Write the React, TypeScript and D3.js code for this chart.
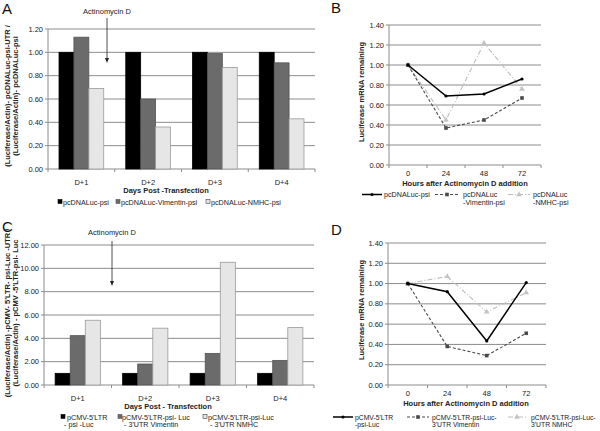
import { useEffect, useRef } from 'react';
import * as d3 from 'd3';

// categories
const days = ['D+1', 'D+2', 'D+3', 'D+4'];
const hours = ['0', '24', '48', '72'];

// panel A (bars)
const aPsi = [1.0, 1.0, 1.0, 1.0];
const aVimentin = [1.13, 0.6, 0.99, 0.91];
const aNmhc = [0.69, 0.36, 0.87, 0.43];
const aTicks = [0, 0.2, 0.4, 0.6, 0.8, 1.0, 1.2];

// panel B (lines)
const bPsi = [1.0, 0.69, 0.71, 0.86];
const bVimentin = [1.0, 0.37, 0.45, 0.67];
const bNmhc = [1.0, 0.45, 1.22, 0.76];

// panel C (bars)
const cPsi = [1.0, 1.0, 1.0, 1.0];
const cVimentin = [4.23, 1.8, 2.71, 2.11];
const cNmhc = [5.55, 4.87, 10.52, 4.92];
const cTicks = [0, 2, 4, 6, 8, 10, 12];

// panel D (lines)
const dPsi = [1.0, 0.92, 0.435, 1.01];
const dVimentin = [1.0, 0.38, 0.29, 0.51];
const dNmhc = [1.0, 1.07, 0.72, 0.91];
const lineTicks = [0, 0.2, 0.4, 0.6, 0.8, 1.0, 1.2, 1.4];

const FONT = '"Liberation Sans", Arial, sans-serif';
const GRID = '#8c8c8c';
const barFills = ['#000000', '#6b6b6b', '#e6e6e6'];
const barStrokes = ['#000000', '#555555', '#9a9a9a'];

type Sel = d3.Selection<SVGSVGElement, unknown, null, undefined>;

function addText(g: any, x: number, y: number, txt: string, size = 7.5, opts: any = {}) {
  return g.append('text')
    .attr('x', x).attr('y', y)
    .attr('font-size', size)
    .attr('font-family', FONT)
    .attr('fill', opts.fill || '#222')
    .attr('font-weight', opts.bold ? 'bold' : 'normal')
    .attr('text-anchor', opts.anchor || 'start')
    .text(txt);
}

function rotTitle(svg: Sel, x: number, cy: number, txt: string) {
  svg.append('text')
    .attr('transform', `translate(${x},${cy}) rotate(-90)`)
    .attr('text-anchor', 'middle')
    .attr('font-size', 7.5).attr('font-weight', 'bold')
    .attr('font-family', FONT).attr('fill', '#222')
    .text(txt);
}

function yAxisGrid(svg: Sel, y: any, ticks: number[], left: number, right: number, top: number, bottom: number) {
  ticks.forEach((t) => {
    svg.append('line')
      .attr('x1', left).attr('x2', right)
      .attr('y1', y(t)).attr('y2', y(t))
      .attr('stroke', GRID).attr('stroke-width', 1);
    svg.append('line')
      .attr('x1', left - 3).attr('x2', left)
      .attr('y1', y(t)).attr('y2', y(t))
      .attr('stroke', GRID);
    addText(svg, left - 5, y(t) + 2.6, d3.format('.2f')(t), 7.5, { anchor: 'end' });
  });
  svg.append('line')
    .attr('x1', left).attr('x2', left)
    .attr('y1', top).attr('y2', bottom)
    .attr('stroke', GRID);
}

function drawBars(svg: Sel, o: any) {
  const y = d3.scaleLinear().domain([0, o.yMax]).range([o.bottom, o.top]);
  const x0 = d3.scaleBand().domain(days).range([o.left, o.right]).paddingInner(0.33).paddingOuter(0.165);
  const x1 = d3.scaleBand().domain(['0', '1', '2']).range([0, x0.bandwidth()]);

  yAxisGrid(svg, y, o.ticks, o.left, o.right, o.top, o.bottom);

  const step = x0.step();
  d3.range(5).forEach((i) => {
    const xx = o.left + i * step;
    svg.append('line')
      .attr('x1', xx).attr('x2', xx)
      .attr('y1', o.bottom).attr('y2', o.bottom + 3)
      .attr('stroke', GRID);
  });

  o.series.forEach((vals: number[], si: number) => {
    svg.append('g').selectAll('rect')
      .data(vals)
      .join('rect')
      .attr('x', (_d, i) => (x0(days[i]) as number) + (x1(String(si)) as number))
      .attr('y', (d) => y(d))
      .attr('width', x1.bandwidth())
      .attr('height', (d) => o.bottom - y(d))
      .attr('fill', barFills[si])
      .attr('stroke', barStrokes[si])
      .attr('stroke-width', 0.8);
  });

  days.forEach((d) => {
    addText(svg, (x0(d) as number) + x0.bandwidth() / 2, o.bottom + 16, d, 7.5, { anchor: 'middle' });
  });
  addText(svg, o.xTitleX, o.bottom + 24, o.xTitle, 7.5, { bold: true, anchor: 'middle' });

  // arrow annotation
  addText(svg, o.arrow.x, o.arrow.ty, 'Actinomycin D', 7.5, { anchor: 'middle' });
  svg.append('line')
    .attr('x1', o.arrow.x).attr('x2', o.arrow.x)
    .attr('y1', o.arrow.y1).attr('y2', o.arrow.y2 - 3)
    .attr('stroke', '#222').attr('stroke-width', 0.8);
  svg.append('path')
    .attr('d', `M${o.arrow.x - 2},${o.arrow.y2 - 5}L${o.arrow.x + 2},${o.arrow.y2 - 5}L${o.arrow.x},${o.arrow.y2}Z`)
    .attr('fill', '#222');

  // legend
  o.legend.forEach((it: any, si: number) => {
    svg.append('rect')
      .attr('x', it.sx).attr('y', o.legendY - 2.5)
      .attr('width', 4).attr('height', 4)
      .attr('fill', barFills[si]).attr('stroke', si === 2 ? '#444' : barStrokes[si]).attr('stroke-width', 0.6);
    it.lines.forEach((ln: string, li: number) => {
      addText(svg, it.tx + (li ? it.indent || 0 : 0), o.legendY + 2.6 + li * 7.5, ln, 7.2);
    });
  });

  o.yTitle.forEach((t: string, i: number) => rotTitle(svg, o.yTitleX[i], o.yTitleY, t));
  addText(svg, o.label.x, o.label.y, o.label.t, 15, { fill: '#111' });
}

function marker(g: any, kind: string, x: number, y: number, color: string) {
  if (kind === 'dot') {
    g.append('circle').attr('cx', x).attr('cy', y).attr('r', 1.6).attr('fill', color);
  } else if (kind === 'square') {
    g.append('rect').attr('x', x - 1.8).attr('y', y - 1.8).attr('width', 3.6).attr('height', 3.6).attr('fill', color);
  } else {
    g.append('path').attr('d', d3.symbol(d3.symbolTriangle, 14)()).attr('transform', `translate(${x},${y})`).attr('fill', color);
  }
}

const lineStyles = [
  { stroke: '#000000', width: 1.5, dash: null, marker: 'dot', mcolor: '#000000' },
  { stroke: '#4a4a4a', width: 1.1, dash: '3,2', marker: 'square', mcolor: '#4a4a4a' },
  { stroke: '#bdbdbd', width: 1.1, dash: '5,2,1,2', marker: 'triangle', mcolor: '#c4c4c4' },
];

function drawLines(svg: Sel, o: any) {
  const y = d3.scaleLinear().domain([0, 1.4]).range([o.bottom, o.top]);
  const x = d3.scaleBand().domain(hours).range([o.left, o.right]);
  const cx = (h: string) => (x(h) as number) + x.bandwidth() / 2;

  yAxisGrid(svg, y, lineTicks, o.left, o.right, o.top, o.bottom);
  d3.range(5).forEach((i) => {
    const xx = o.left + i * x.step();
    svg.append('line')
      .attr('x1', xx).attr('x2', xx)
      .attr('y1', o.bottom).attr('y2', o.bottom + 3)
      .attr('stroke', GRID);
  });
  hours.forEach((h) => addText(svg, cx(h), o.bottom + 11, h, 7.5, { anchor: 'middle' }));
  addText(svg, o.xTitleX, o.bottom + 21, 'Hours after Actinomycin D addition', 7.5, { bold: true, anchor: 'middle' });

  const line = d3.line<number>().x((_d, i) => cx(hours[i])).y((d) => y(d));
  // draw light series first so the black one sits on top
  [2, 1, 0].forEach((si) => {
    const st = lineStyles[si];
    const vals = o.series[si];
    svg.append('path')
      .attr('d', line(vals))
      .attr('fill', 'none')
      .attr('stroke', st.stroke)
      .attr('stroke-width', st.width)
      .attr('stroke-dasharray', st.dash);
    const g = svg.append('g');
    vals.forEach((v: number, i: number) => marker(g, st.marker, cx(hours[i]), y(v), st.mcolor));
  });

  o.legend.forEach((it: any, si: number) => {
    const st = lineStyles[si];
    svg.append('line')
      .attr('x1', it.x1).attr('x2', it.x2)
      .attr('y1', o.legendY).attr('y2', o.legendY)
      .attr('stroke', st.stroke).attr('stroke-width', st.width)
      .attr('stroke-dasharray', st.dash);
    marker(svg, st.marker, (it.x1 + it.x2) / 2, o.legendY, st.mcolor);
    it.lines.forEach((ln: string, li: number) => {
      addText(svg, it.tx, o.legendY + 2.6 + li * 7.5, ln, o.legendSize || 7.2);
    });
  });

  rotTitle(svg, o.yTitleX, o.yTitleY, 'Luciferase mRNA remaining');
  addText(svg, o.label.x, o.label.y, o.label.t, 15, { fill: '#111' });
}

export default function App() {
  const svgRef = useRef<SVGSVGElement>(null);

  useEffect(() => {
    if (!svgRef.current) return;
    const svg = d3.select(svgRef.current);
    svg.selectAll('*').remove();

    drawBars(svg, {
      left: 48, right: 315, top: 29, bottom: 169, yMax: 1.2, ticks: aTicks,
      series: [aPsi, aVimentin, aNmhc],
      xTitle: 'Days Post -Transfection', xTitleX: 166,
      arrow: { x: 107, ty: 14, y1: 18, y2: 63 },
      legendY: 202,
      legend: [
        { sx: 58, tx: 63, lines: ['pcDNALuc-psi'] },
        { sx: 116, tx: 121, lines: ['pcDNALuc-Vimentin-psi'] },
        { sx: 206, tx: 211, lines: ['pcDNALuc-NMHC-psi'] },
      ],
      yTitle: ['(Luciferase/Actin)- pcDNALuc-psi-UTR /', '(Luciferase/Actin)- pcDNALuc-psi'],
      yTitleX: [9.5, 17.5], yTitleY: 96,
      label: { x: 2, y: 14, t: 'A' },
    });

    drawLines(svg, {
      left: 389, right: 541, top: 25, bottom: 165,
      series: [bPsi, bVimentin, bNmhc],
      xTitleX: 465,
      legendY: 194.5,
      legend: [
        { x1: 362, x2: 382, tx: 384, lines: ['pcDNALuc-psi'] },
        { x1: 435, x2: 459, tx: 463, lines: ['pcDNALuc', '-Vimentin-psi'] },
        { x1: 508, x2: 530, tx: 533, lines: ['pcDNALuc', '-NMHC-psi'] },
      ],
      yTitleX: 363.5, yTitleY: 92,
      label: { x: 331, y: 13, t: 'B' },
    });

    drawBars(svg, {
      left: 44, right: 314, top: 245, bottom: 385, yMax: 12, ticks: cTicks,
      series: [cPsi, cVimentin, cNmhc],
      xTitle: 'Days Post - Transfection', xTitleX: 168,
      arrow: { x: 112, ty: 235, y1: 241, y2: 286 },
      legendY: 417,
      legend: [
        { sx: 61, tx: 67, indent: -3, lines: ['pCMV-5\'LTR', '- psi -Luc'] },
        { sx: 118, tx: 122, indent: 2, lines: ['pCMV-5\'LTR-psi- Luc', '- 3\'UTR Vimentin'] },
        { sx: 203, tx: 208, indent: 2, lines: ['pCMV-5\'LTR-psi-Luc', '- 3\'UTR NMHC'] },
      ],
      yTitle: ['(Luciferase/Actin) -pCMV- 5\'LTR- psi-Luc -UTR /', '(Luciferase/Actin) - pCMV -5\'LTR-psi- Luc'],
      yTitleX: [9.5, 17.5], yTitleY: 313,
      label: { x: 2, y: 232, t: 'C' },
    });

    drawLines(svg, {
      left: 388, right: 546, top: 243, bottom: 385,
      series: [dPsi, dVimentin, dNmhc],
      xTitleX: 466,
      legendY: 417,
      legendSize: 6.8,
      legend: [
        { x1: 333, x2: 353, tx: 355, lines: ['pCMV-5\'LTR', '-psi-Luc'] },
        { x1: 407, x2: 429, tx: 432, lines: ['pCMV-5\'LTR-psi-Luc-', '3\'UTR Vimentin'] },
        { x1: 508, x2: 526, tx: 531, lines: ['pCMV-5\'LTR-psi-Luc-', '3\'UTR NMHC'] },
      ],
      yTitleX: 363.5, yTitleY: 310,
      label: { x: 331, y: 235, t: 'D' },
    });
  }, []);

  return (
    <svg
      ref={svgRef}
      width={600}
      height={431}
      style={{ position: 'absolute', left: 0, top: 0, background: '#fff' }}
    />
  );
}
